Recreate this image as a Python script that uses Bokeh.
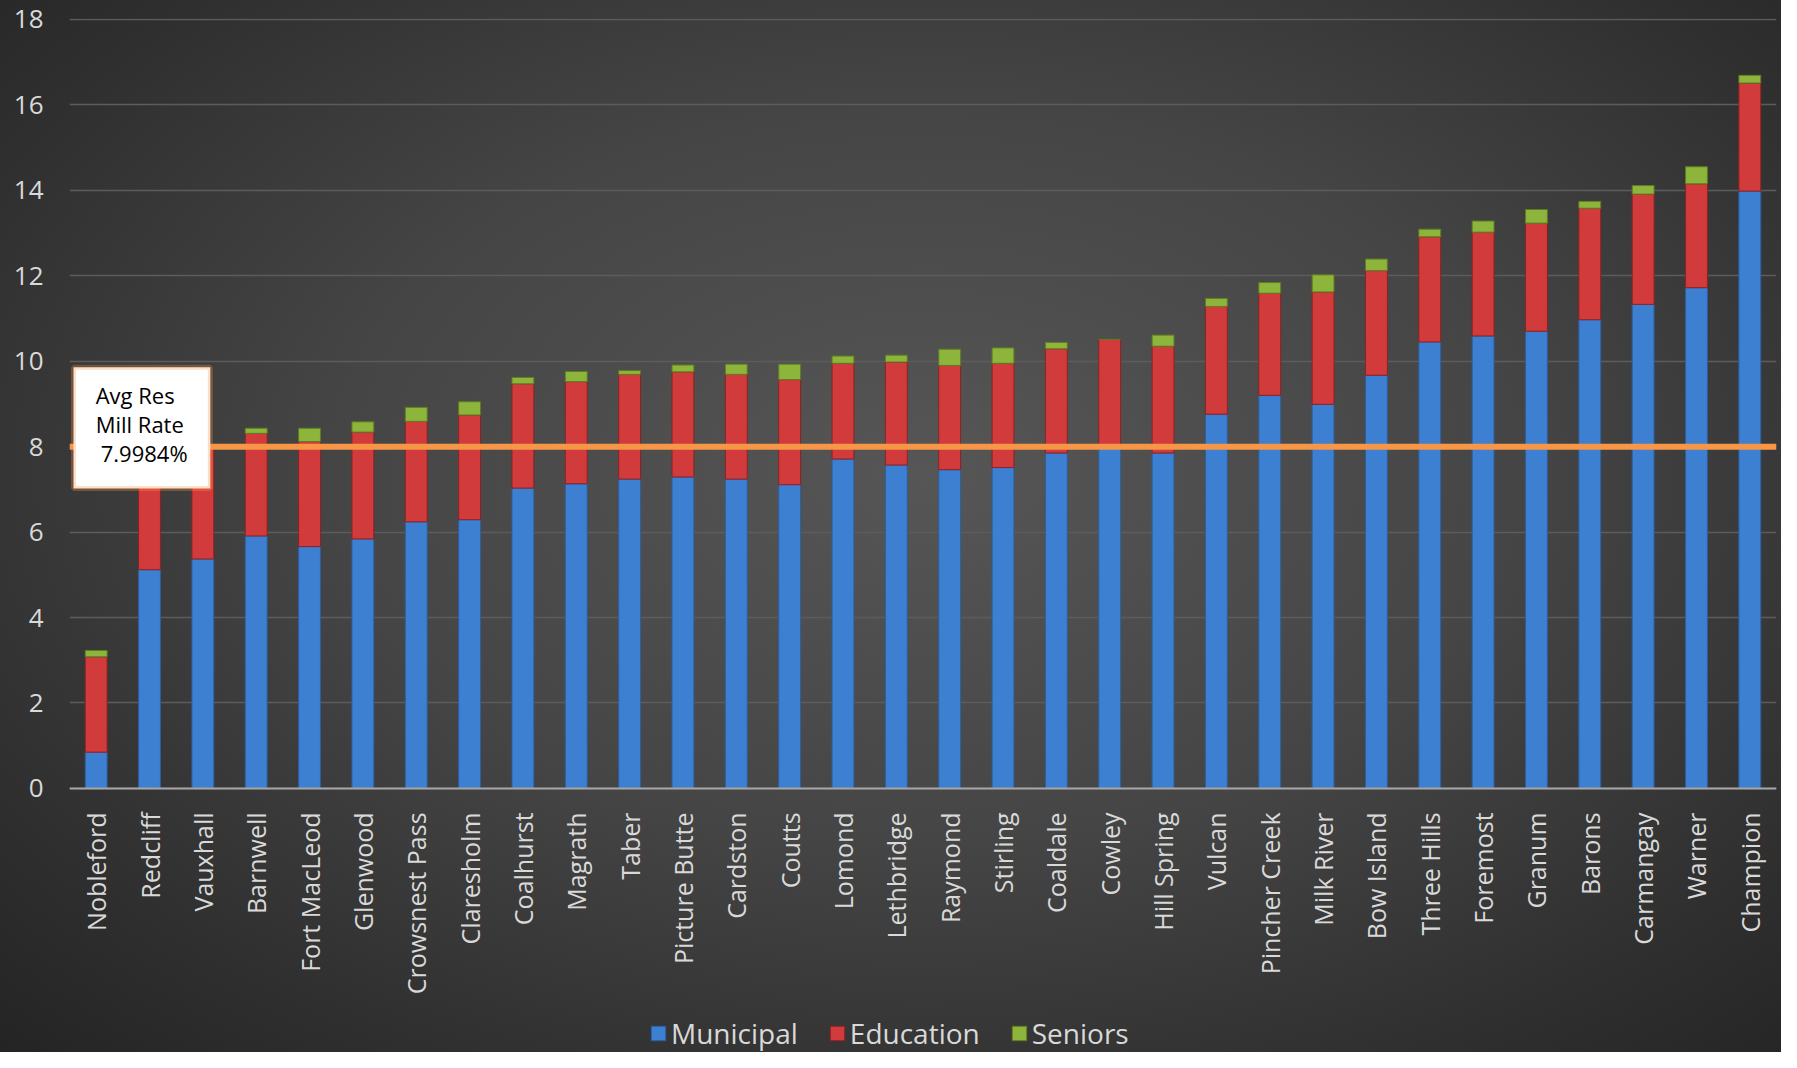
import math
from bokeh.plotting import figure
from bokeh.models import (FactorRange, Range1d, Span, BoxAnnotation, Label, Legend,
                          LegendItem, FixedTicker, ColumnDataSource)
from bokeh.embed import file_html
from bokeh.resources import INLINE

towns = ["Nobleford", "Redcliff", "Vauxhall", "Barnwell", "Fort MacLeod", "Glenwood",
         "Crowsnest Pass", "Claresholm", "Coalhurst", "Magrath", "Taber", "Picture Butte",
         "Cardston", "Coutts", "Lomond", "Lethbridge", "Raymond", "Stirling", "Coaldale",
         "Cowley", "Hill Spring", "Vulcan", "Pincher Creek", "Milk River", "Bow Island",
         "Three Hills", "Foremost", "Granum", "Barons", "Carmangay", "Warner", "Champion"]

municipal = [0.85, 5.12, 5.37, 5.91, 5.66, 5.84, 6.24, 6.29, 7.03, 7.13, 7.24, 7.29,
             7.24, 7.11, 7.71, 7.57, 7.46, 7.51, 7.85, 8.05, 7.85, 8.76, 9.20, 8.99,
             9.67, 10.45, 10.59, 10.70, 10.97, 11.33, 11.72, 13.98]

education = [2.23, 2.55, 2.61, 2.40, 2.46, 2.50, 2.35, 2.45, 2.44, 2.39, 2.45, 2.46,
             2.45, 2.46, 2.24, 2.41, 2.44, 2.44, 2.44, 2.46, 2.50, 2.52, 2.39, 2.63,
             2.45, 2.46, 2.43, 2.53, 2.61, 2.58, 2.43, 2.53]

seniors = [0.15, 0.15, 0.07, 0.12, 0.31, 0.24, 0.33, 0.31, 0.15, 0.24, 0.09, 0.16,
           0.24, 0.36, 0.17, 0.16, 0.38, 0.36, 0.15, 0.00, 0.26, 0.19, 0.25, 0.40,
           0.27, 0.18, 0.26, 0.32, 0.16, 0.20, 0.40, 0.18]

series_names = ["Municipal", "Education", "Seniors"]
y_ticks = [0, 2, 4, 6, 8, 10, 12, 14, 16, 18]

avg_rate = 7.9984
avg_label_lines = ["Avg Res", "Mill Rate", "7.9984%"]

FONT = "Open Sans"
TXT = "#d9d9d9"

src = ColumnDataSource(dict(town=towns, municipal=municipal, education=education, seniors=seniors))

# the frame runs to the bottom of the canvas; the category axis is pinned at y = 0
p = figure(x_range=FactorRange(factors=towns, range_padding=0),
           y_range=Range1d(-6.18, 18.02),
           width=1781, height=1052, output_backend="svg", toolbar_location=None,
           min_border_left=69, min_border_right=5, min_border_top=18, min_border_bottom=0)

p.background_fill_alpha = 0
p.border_fill_alpha = 0
p.outline_line_color = None
p.styles = {"background": "radial-gradient(ellipse at 52% 45%, #565656 0%, #454545 45%, #2f2f2f 80%, #242424 100%)"}

rs = p.vbar_stack(["municipal", "education", "seniors"], x="town", width=0.41, source=src,
                  fill_color=["#3d7fd1", "#d13b3b", "#8db43b"],
                  line_color=["#2c5f9e", "#8e2222", "#5e7d22"], line_width=1)

# axes
p.xaxis.fixed_location = 0
p.xaxis.major_label_orientation = math.pi / 2
p.xaxis.major_label_text_font = FONT
p.xaxis.major_label_text_font_size = "25px"
p.xaxis.major_label_text_color = TXT
p.xaxis.major_tick_line_color = None
p.xaxis.minor_tick_line_color = None
p.xaxis.axis_line_color = "#a6a6a6"
p.xaxis.axis_line_width = 2
p.xaxis.major_label_standoff = 18

p.yaxis.ticker = FixedTicker(ticks=y_ticks)
p.yaxis.major_label_text_font = FONT
p.yaxis.major_label_text_font_size = "26px"
p.yaxis.major_label_text_color = TXT
p.yaxis.axis_line_color = None
p.yaxis.major_tick_line_color = None
p.yaxis.minor_tick_line_color = None
p.yaxis.major_label_standoff = 20

p.xgrid.grid_line_color = None
p.ygrid.grid_line_color = "#5c5c5c"
p.ygrid.grid_line_width = 1.5

# average line and its box
p.add_layout(Span(location=avg_rate, dimension="width", line_color="#F79646", line_width=6))
p.add_layout(BoxAnnotation(left=0.075, right=2.64, bottom=7.02, top=9.86,
                           fill_color="white", fill_alpha=1.0,
                           line_color="#F79646", line_width=5))
for txt, xx, yy in zip(avg_label_lines, [0.49, 0.49, 0.585], [9.21, 8.53, 7.86]):
    p.add_layout(Label(x=xx, y=yy, text=txt, text_font=FONT, text_font_size="22px",
                       text_color="black", text_baseline="middle", text_align="left"))

legend = Legend(items=[LegendItem(label=n, renderers=[r]) for n, r in zip(series_names, rs)],
                orientation="horizontal", location=(580, 0),
                background_fill_alpha=0, border_line_alpha=0,
                label_text_color=TXT, label_text_font=FONT, label_text_font_size="28px",
                glyph_width=18, glyph_height=18, spacing=30, label_standoff=4,
                padding=0, margin=0)
p.add_layout(legend, "center")

open("out.html", "w").write(file_html(p, INLINE))
